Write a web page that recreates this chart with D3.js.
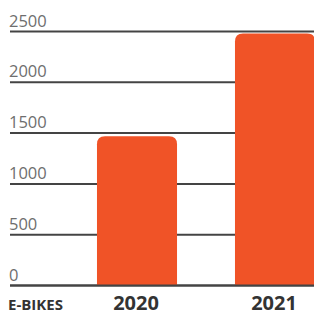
<!DOCTYPE html>
<html lang="en">
<head>
    <meta charset="UTF-8">
    <title>E-bikes</title>
    <script src="https://d3js.org/d3.v7.min.js"></script>
    <style>
        body { margin: 0; background: #fff; }
        svg { display: block; }
    </style>
</head>
<body>
    <svg width="314" height="311"></svg>
    <script>
        var years = ['2020', '2021'];
        var eBikes = [1470, 2480];
        var yTicks = [0, 500, 1000, 1500, 2000, 2500];
        var seriesLabel = 'E-BIKES';

        var svg = d3.select('svg');

        var x = d3.scaleBand().domain(years).range([68, 344])
            .paddingInner(0.42).paddingOuter(0.21);
        var y = d3.scaleLinear().domain([0, 2500]).range([285.5, 31.5]);

        // gridlines + tick labels
        var tick = svg.append('g').selectAll('g')
            .data(yTicks)
            .enter()
            .append('g')
            .attr('transform', d => 'translate(0,' + y(d) + ')');

        tick.append('line')
            .attr('x1', 10).attr('x2', 314)
            .style('stroke', '#444')
            .style('stroke-width', '2px');

        tick.append('text')
            .attr('x', 9)
            .attr('y', -5)
            .text(d => d)
            .style('font-family', "'Open Sans', sans-serif")
            .style('font-size', '16.5px')
            .style('fill', '#6e6e6e');

        // bars with rounded top corners
        var r = 8;
        function barPath(d, i) {
            var x0 = x(years[i]), x1 = x0 + x.bandwidth();
            var top = y(d), base = y(0);
            return 'M' + x0 + ',' + base +
                'V' + (top + r) +
                'Q' + x0 + ',' + top + ' ' + (x0 + r) + ',' + top +
                'H' + (x1 - r) +
                'Q' + x1 + ',' + top + ' ' + x1 + ',' + (top + r) +
                'V' + base + 'Z';
        }

        svg.append('g').selectAll('path')
            .data(eBikes)
            .enter()
            .append('path')
            .attr('d', barPath)
            .style('fill', '#f05327');

        svg.append('line')
            .attr('x1', 10).attr('x2', 314)
            .attr('y1', y(0)).attr('y2', y(0))
            .style('stroke', '#444')
            .style('stroke-width', '2px');

        // category labels
        svg.append('g').selectAll('text')
            .data(years)
            .enter()
            .append('text')
            .attr('x', d => x(d) + x.bandwidth() / 2 - 1)
            .attr('y', 309.5)
            .attr('text-anchor', 'middle')
            .text(d => d)
            .style('font-family', "'Open Sans', sans-serif")
            .style('font-weight', 'bold')
            .style('font-size', '20px')
            .style('fill', '#333');

        svg.append('text')
            .attr('x', 8)
            .attr('y', 309.5)
            .text(seriesLabel)
            .style('font-family', "'Open Sans', sans-serif")
            .style('font-weight', 'bold')
            .style('font-size', '15px')
            .style('fill', '#333');
    </script>
</body>
</html>
